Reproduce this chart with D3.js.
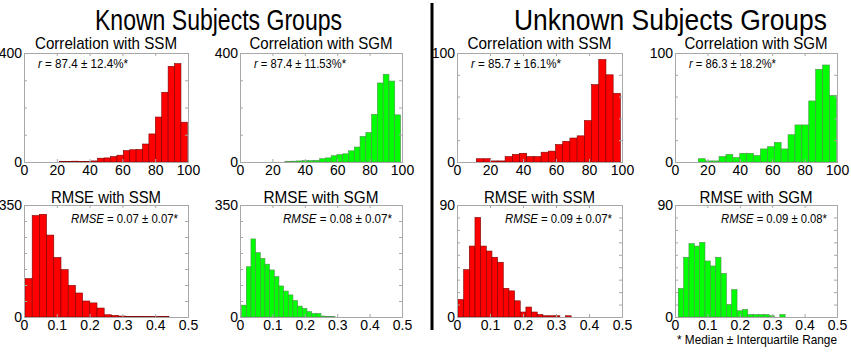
<!DOCTYPE html>
<html><head><meta charset="utf-8">
<script src="https://cdn.jsdelivr.net/npm/d3@7"></script>
<style>body{margin:0;background:#fff} svg{display:block}</style>
</head><body><svg id="c" width="851" height="352"></svg>
<script>
// ---------------- DATA ----------------
const groupTitles = ["Known Subjects Groups", "Unknown Subjects Groups"];
const panelTitles = ["Correlation with SSM", "Correlation with SGM", "Correlation with SSM", "Correlation with SGM",
                     "RMSE with SSM", "RMSE with SGM", "RMSE with SSM", "RMSE with SGM"];
const statNames = ["r", "r", "r", "r", "RMSE", "RMSE", "RMSE", "RMSE"];
const statValues = [" = 87.4 ± 12.4%*", " = 87.4 ± 11.53%*", " = 85.7 ± 16.1%*", " = 86.3 ± 18.2%*",
                    " = 0.07 ± 0.07*", " = 0.08 ± 0.07*", " = 0.09 ± 0.07*", " = 0.09 ± 0.08*"];
const footnote = "* Median ± Interquartile Range";

// histogram counts (20 bins each)
const knownCorrSSM   = [2, 2, 3, 2, 2, 4, 14, 15, 20, 25, 42, 45, 46, 66, 103, 165, 256, 351, 361, 146];
const knownCorrSGM   = [2, 3, 4, 5, 5, 6, 12, 15, 23, 27, 30, 41, 55, 94, 108, 175, 290, 322, 297, 173];
const unknownCorrSSM = [3, 3, 1, 1, 5, 7, 8, 5, 5, 9, 10, 16, 19, 22, 24, 38, 71, 94, 80, 63];
const unknownCorrSGM = [3, 1, 1, 5, 7, 4, 8, 8, 6, 12, 14, 18, 12, 25, 34, 34, 56, 85, 89, 61];
const knownRmseSSM   = [120, 317, 321, 256, 186, 148, 99, 75, 50, 44, 28, 7, 5, 3, 2, 2, 2, 1, 1, 2];
const knownRmseSGM   = [37, 157, 244, 201, 183, 165, 147, 126, 97, 81, 69, 51, 34, 27, 17, 11, 11, 3, 2, 1];
const unknownRmseSSM = [14, 38, 57, 80, 57, 53, 48, 44, 23, 21, 13, 4, 8, 4, 2, 1, 1, 1, 0, 1];
const unknownRmseSGM = [23, 48, 59, 57, 60, 45, 41, 48, 35, 10, 22, 5, 6, 2, 2, 2, 2, 1, 0, 2];

// bin range [first edge, last edge] for each histogram
const binRanges = [[21.5, 99.6], [27.7, 99.1], [11.7, 99.0], [14.4, 99.6],
                   [0.003, 0.442], [0.005, 0.293], [0.003, 0.346], [0.010, 0.340]];

const corrXTicks = [0, 20, 40, 60, 80, 100];
const rmseXTicks = [0, 0.1, 0.2, 0.3, 0.4, 0.5];
const yMaxes = [400, 400, 100, 100, 350, 350, 90, 90];
const yTickSteps = [100, 100, 20, 20, 50, 50, 10, 10];

const seriesList = [knownCorrSSM, knownCorrSGM, unknownCorrSSM, unknownCorrSGM,
                    knownRmseSSM, knownRmseSGM, unknownRmseSSM, unknownRmseSGM];
const colors = ["#ff0000", "#00ff00", "#ff0000", "#00ff00", "#ff0000", "#00ff00", "#ff0000", "#00ff00"];
const edgeColors = ["#7a0000", "#4f8f4f", "#7a0000", "#4f8f4f", "#7a0000", "#4f8f4f", "#7a0000", "#4f8f4f"];

// ---------------- LAYOUT ----------------
const cols = [[24, 188], [240, 402], [457, 622], [675, 837]];
const rows = [[53, 162], [205, 317]];
const titleWidths = [142, 143, 144, 143, 110, 115, 111, 113];
const statWidths = [90, 92, 90, 87, 107, 109, 107, 106];
const FONT = "'Liberation Sans', Arial, Helvetica, sans-serif";

const svg = d3.select("#c");

// group titles
svg.append("text").attr("x", 95).attr("y", 30).attr("font-family", FONT).attr("font-size", 30)
  .attr("textLength", 247).attr("lengthAdjust", "spacingAndGlyphs").text(groupTitles[0]);
svg.append("text").attr("x", 514).attr("y", 30).attr("font-family", FONT).attr("font-size", 30)
  .attr("textLength", 313).attr("lengthAdjust", "spacingAndGlyphs").text(groupTitles[1]);

// divider
svg.append("line").attr("x1", 432).attr("x2", 432).attr("y1", 3).attr("y2", 330)
  .attr("stroke", "#000").attr("stroke-width", 3);

seriesList.forEach((counts, i) => {
  const col = cols[i % 4], row = rows[Math.floor(i / 4)];
  const isCorr = i < 4;
  const x = d3.scaleLinear().domain(isCorr ? [0, 100] : [0, 0.5]).range(col);
  const y = d3.scaleLinear().domain([0, yMaxes[i]]).range([row[1], row[0]]);
  const xt = isCorr ? corrXTicks : rmseXTicks;
  const yt = d3.range(0, yMaxes[i] + 1e-9, yTickSteps[i]);
  const g = svg.append("g");

  // bars
  const [lo, hi] = binRanges[i];
  const w = (hi - lo) / counts.length;
  g.selectAll("rect.bar").data(counts).join("rect").attr("class", "bar")
    .attr("x", (d, k) => x(lo + k * w))
    .attr("width", (d, k) => x(lo + (k + 1) * w) - x(lo + k * w))
    .attr("y", d => y(d))
    .attr("height", d => y(0) - y(d))
    .attr("fill", colors[i]).attr("stroke", edgeColors[i]).attr("stroke-width", 0.6);

  const fmt = d3.format("~g");
  const styleAxis = sel => {
    sel.select(".domain").attr("stroke", "#a8a8a8");
    sel.selectAll(".tick line").attr("stroke", "#a8a8a8");
    sel.selectAll("text").attr("font-family", FONT).attr("font-size", 14).attr("fill", "#000");
  };
  g.append("g").attr("transform", `translate(0,${row[1]})`)
    .call(d3.axisBottom(x).tickValues(xt).tickSize(-3).tickPadding(3).tickFormat(fmt)).call(styleAxis);
  g.append("g").attr("transform", `translate(0,${row[0]})`)
    .call(d3.axisTop(x).tickValues(xt).tickSize(-3).tickFormat("")).call(styleAxis);
  g.append("g").attr("transform", `translate(${col[0]},0)`)
    .call(d3.axisLeft(y).tickValues(yt).tickSize(-3).tickPadding(2)
      .tickFormat(d => (d === 0 || d === yMaxes[i]) ? fmt(d) : "")).call(styleAxis);
  g.append("g").attr("transform", `translate(${col[1]},0)`)
    .call(d3.axisRight(y).tickValues(yt).tickSize(-3).tickFormat("")).call(styleAxis);

  // panel title
  g.append("text").attr("x", (col[0] + col[1]) / 2).attr("y", isCorr ? 49 : 203)
    .attr("text-anchor", "middle").attr("font-family", FONT).attr("font-size", 17)
    .attr("textLength", titleWidths[i]).attr("lengthAdjust", "spacingAndGlyphs")
    .text(panelTitles[i]);

  // stat annotation
  const t = g.append("text").attr("font-family", FONT).attr("font-size", 13)
    .attr("textLength", statWidths[i]).attr("lengthAdjust", "spacingAndGlyphs");
  if (isCorr) t.attr("x", col[0] + 14).attr("y", row[0] + 15);
  else t.attr("x", col[1] - 10 - statWidths[i]).attr("y", row[0] + 18);
  t.append("tspan").attr("font-style", "italic").text(statNames[i]);
  t.append("tspan").text(statValues[i]);
});

svg.append("text").attr("x", 837).attr("y", 344).attr("text-anchor", "end")
  .attr("font-family", FONT).attr("font-size", 13)
  .attr("textLength", 160).attr("lengthAdjust", "spacingAndGlyphs").text(footnote);
</script>
</body></html>
